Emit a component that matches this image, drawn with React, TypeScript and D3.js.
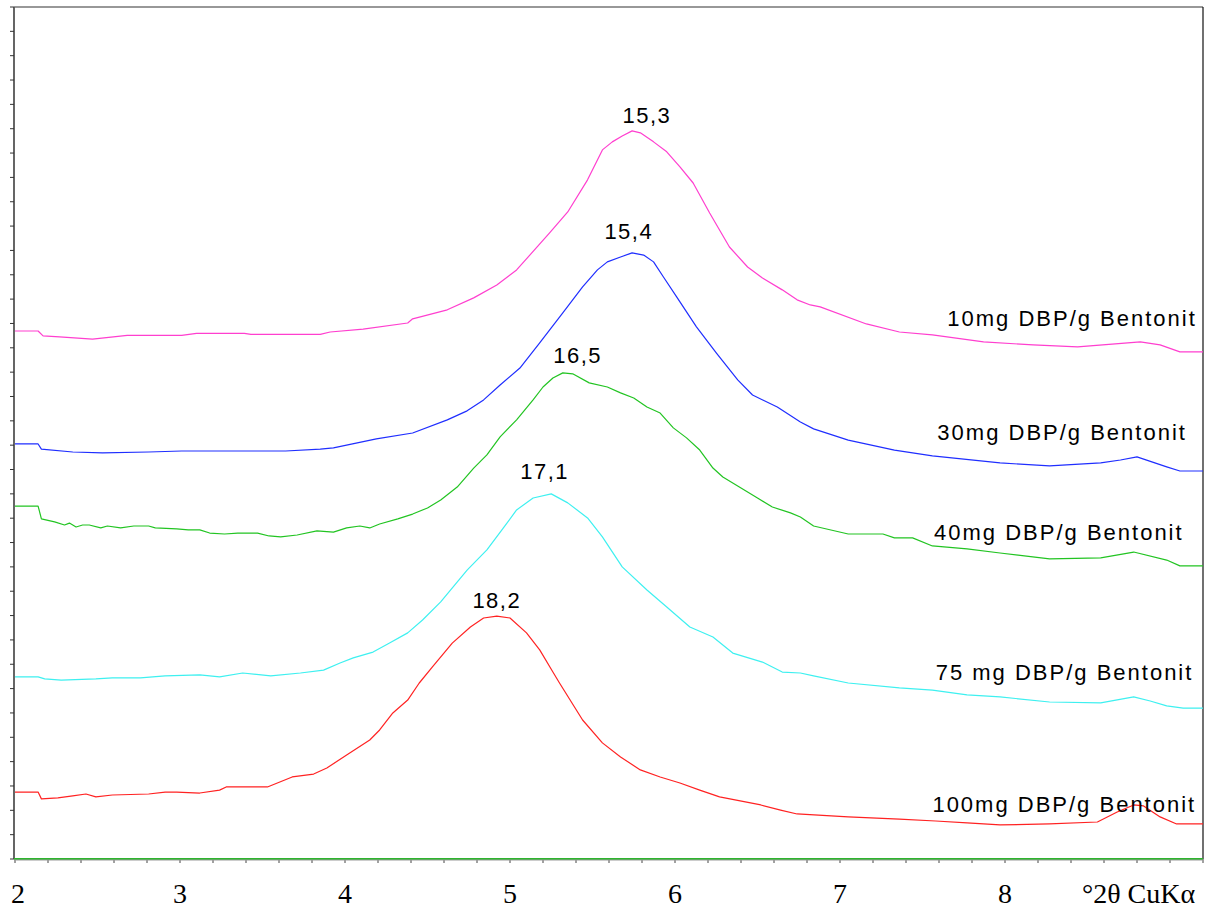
import React from "react";
import * as d3 from "d3";

// ---- data (x in °2θ, y in arbitrary intensity units, stacked as plotted) ----
const mag10X = [2.0, 2.14, 2.17, 2.27, 2.47, 2.68, 3.01, 3.1, 3.39, 3.43, 3.85, 3.91, 4.11, 4.38, 4.41, 4.62, 4.78, 4.92, 5.04, 5.12, 5.24, 5.35, 5.47, 5.56, 5.62, 5.68, 5.74, 5.79, 5.87, 5.95, 6.03, 6.11, 6.21, 6.33, 6.44, 6.53, 6.65, 6.74, 6.82, 6.88, 7.16, 7.36, 7.56, 7.87, 8.17, 8.44, 8.82, 8.94, 9.06, 9.2];
const mag10Y = [21.69, 21.69, 21.49, 21.45, 21.36, 21.51, 21.51, 21.59, 21.59, 21.55, 21.55, 21.65, 21.77, 22.02, 22.19, 22.56, 23.05, 23.58, 24.2, 24.81, 25.72, 26.58, 27.9, 29.13, 29.46, 29.7, 29.91, 29.83, 29.46, 29.05, 28.43, 27.77, 26.54, 25.14, 24.32, 23.87, 23.38, 22.97, 22.76, 22.68, 21.98, 21.65, 21.53, 21.24, 21.12, 21.04, 21.24, 21.12, 20.83, 20.83];

const blue30X = [2.0, 2.14, 2.16, 2.35, 2.53, 2.81, 3.01, 3.33, 3.64, 3.85, 3.93, 4.19, 4.41, 4.62, 4.74, 4.84, 4.94, 5.06, 5.18, 5.32, 5.44, 5.53, 5.59, 5.67, 5.74, 5.81, 5.87, 5.93, 6.01, 6.13, 6.25, 6.38, 6.47, 6.62, 6.76, 6.84, 7.05, 7.33, 7.56, 7.97, 8.27, 8.58, 8.7, 8.8, 8.98, 9.06, 9.2];
const blue30Y = [17.05, 17.05, 16.84, 16.72, 16.68, 16.72, 16.76, 16.76, 16.76, 16.84, 16.89, 17.26, 17.5, 18.04, 18.41, 18.86, 19.47, 20.17, 21.2, 22.43, 23.5, 24.2, 24.53, 24.73, 24.9, 24.81, 24.53, 23.91, 23.09, 21.86, 20.79, 19.68, 19.06, 18.57, 17.95, 17.67, 17.21, 16.8, 16.56, 16.27, 16.15, 16.27, 16.39, 16.52, 16.11, 15.94, 15.94];

const green40X = [2.0, 2.14, 2.16, 2.24, 2.3, 2.33, 2.37, 2.41, 2.45, 2.52, 2.56, 2.64, 2.72, 2.81, 2.85, 2.98, 3.05, 3.12, 3.18, 3.27, 3.35, 3.47, 3.54, 3.61, 3.71, 3.83, 3.93, 4.01, 4.09, 4.15, 4.21, 4.32, 4.41, 4.5, 4.58, 4.68, 4.78, 4.86, 4.94, 5.04, 5.14, 5.2, 5.26, 5.32, 5.38, 5.48, 5.59, 5.67, 5.75, 5.83, 5.91, 5.99, 6.07, 6.15, 6.23, 6.29, 6.39, 6.5, 6.59, 6.7, 6.76, 6.84, 7.05, 7.26, 7.33, 7.44, 7.56, 7.77, 7.97, 8.27, 8.58, 8.78, 8.98, 9.06, 9.2];
const green40Y = [14.5, 14.5, 13.97, 13.85, 13.72, 13.8, 13.64, 13.72, 13.72, 13.6, 13.68, 13.6, 13.68, 13.68, 13.6, 13.56, 13.52, 13.52, 13.39, 13.35, 13.39, 13.39, 13.27, 13.23, 13.31, 13.48, 13.43, 13.6, 13.68, 13.6, 13.76, 13.97, 14.17, 14.42, 14.75, 15.28, 16.06, 16.6, 17.34, 18.04, 18.86, 19.39, 19.76, 19.97, 19.93, 19.56, 19.39, 19.15, 18.94, 18.57, 18.32, 17.71, 17.3, 16.8, 16.06, 15.69, 15.28, 14.83, 14.46, 14.22, 14.05, 13.68, 13.35, 13.35, 13.19, 13.19, 12.86, 12.74, 12.57, 12.33, 12.37, 12.61, 12.28, 12.04, 12.04];

const cyan75X = [2.0, 2.14, 2.18, 2.28, 2.49, 2.59, 2.76, 2.91, 3.12, 3.24, 3.38, 3.55, 3.73, 3.87, 3.97, 4.05, 4.17, 4.27, 4.38, 4.47, 4.58, 4.74, 4.86, 4.96, 5.04, 5.14, 5.25, 5.35, 5.47, 5.56, 5.68, 5.83, 5.95, 6.09, 6.23, 6.35, 6.53, 6.65, 6.76, 6.84, 7.05, 7.36, 7.56, 7.77, 7.97, 8.27, 8.58, 8.78, 8.88, 8.98, 9.08, 9.2];
const cyan75Y = [7.48, 7.48, 7.4, 7.35, 7.4, 7.44, 7.44, 7.52, 7.56, 7.48, 7.64, 7.52, 7.64, 7.76, 8.05, 8.26, 8.5, 8.87, 9.29, 9.82, 10.56, 11.87, 12.7, 13.6, 14.34, 14.83, 15.0, 14.63, 14.01, 13.23, 12.0, 11.05, 10.35, 9.53, 9.12, 8.46, 8.09, 7.68, 7.64, 7.52, 7.23, 7.03, 6.94, 6.74, 6.66, 6.45, 6.41, 6.66, 6.49, 6.29, 6.2, 6.2];

const red100X = [2.0, 2.14, 2.16, 2.26, 2.35, 2.43, 2.49, 2.59, 2.81, 2.91, 2.98, 3.12, 3.24, 3.28, 3.53, 3.68, 3.81, 3.89, 4.01, 4.15, 4.21, 4.29, 4.38, 4.45, 4.53, 4.65, 4.76, 4.84, 4.92, 5.0, 5.1, 5.18, 5.26, 5.3, 5.44, 5.56, 5.67, 5.79, 5.91, 6.03, 6.15, 6.27, 6.52, 6.64, 6.74, 7.05, 7.36, 7.58, 7.77, 7.97, 8.27, 8.56, 8.68, 8.78, 8.84, 8.94, 9.04, 9.2];
const red100Y = [2.75, 2.75, 2.47, 2.51, 2.59, 2.67, 2.55, 2.63, 2.67, 2.75, 2.75, 2.71, 2.83, 2.96, 2.96, 3.37, 3.49, 3.74, 4.27, 4.89, 5.3, 6.0, 6.53, 7.23, 7.89, 8.87, 9.53, 9.9, 9.98, 9.9, 9.29, 8.59, 7.68, 7.23, 5.71, 4.77, 4.19, 3.66, 3.37, 3.12, 2.83, 2.55, 2.22, 2.01, 1.85, 1.73, 1.64, 1.56, 1.48, 1.4, 1.44, 1.52, 1.93, 2.22, 2.18, 1.73, 1.44, 1.44];

const seriesNames = ["10mg DBP/g Bentonit", "30mg DBP/g Bentonit", "40mg DBP/g Bentonit", "75 mg DBP/g Bentonit", "100mg DBP/g Bentonit"];
const seriesColors = ["#ff3fcf", "#1f2eff", "#22c422", "#3ef0f0", "#ff2222"];
const nameLabelX = [7.65, 7.59, 7.57, 7.58, 7.56];
const nameLabelY = [21.9, 17.21, 13.11, 7.35, 1.93];

const peakLabels = ["15,3", "15,4", "16,5", "17,1", "18,2"];
const peakLabelX = [5.83, 5.72, 5.41, 5.21, 4.92];
const peakLabelY = [30.24, 25.47, 20.38, 15.61, 10.31];

const xTickLabels = [2, 3, 4, 5, 6, 7, 8];
const xAxisTitle = "°2θ CuKα";

const X_MIN = 2;
const X_MAX = 9.2;
const Y_MIN = 0;
const Y_MAX = 35;

export default function App() {
  const W = 1221;
  const H = 911;
  const left = 15;
  const right = 1203;
  const top = 7;
  const bottom = 859;

  const x = d3.scaleLinear().domain([X_MIN, X_MAX]).range([left, right]);
  const y = d3.scaleLinear().domain([Y_MIN, Y_MAX]).range([bottom, top]);

  const xs = [mag10X, blue30X, green40X, cyan75X, red100X];
  const ys = [mag10Y, blue30Y, green40Y, cyan75Y, red100Y];

  const line = d3
    .line<[number, number]>()
    .x((d) => x(d[0]))
    .y((d) => y(d[1]));

  const minorTicks = d3.range(0, Math.round((X_MAX - X_MIN) / 0.2) + 1).map((i) => X_MIN + i * 0.2);
  const yTicks = d3.range(Y_MIN, Y_MAX + 1, 1);

  const sans = "'Liberation Sans', Arial, Helvetica, sans-serif";
  const serif = "'Liberation Serif', 'Times New Roman', serif";

  return (
    <svg
      width={W}
      height={H}
      style={{ position: "absolute", left: 0, top: 0, background: "#fff" }}
    >
      <rect x={0} y={0} width={W} height={H} fill="#fff" />
      {/* frame */}
      <line x1={x(X_MIN) - 1} x2={x(X_MAX)} y1={y(Y_MAX)} y2={y(Y_MAX)} stroke="#333" strokeWidth={1.2} />
      <line x1={x(X_MAX)} x2={x(X_MAX)} y1={y(Y_MAX)} y2={y(Y_MIN)} stroke="#111" strokeWidth={1.2} />
      <line x1={x(X_MIN) - 1} x2={x(X_MIN) - 1} y1={y(Y_MAX)} y2={y(Y_MIN)} stroke="#555" strokeWidth={1.8} />
      {/* y ticks */}
      {yTicks.map((t) => (
        <line key={"yt" + t} x1={x(X_MIN) - 5} x2={x(X_MIN) - 1} y1={y(t)} y2={y(t)} stroke="#333" strokeWidth={1} />
      ))}
      {/* x ticks */}
      {minorTicks.map((t, i) => (
        <line key={"xt" + i} x1={x(t)} x2={x(t)} y1={y(Y_MIN)} y2={y(Y_MIN) + 4} stroke="#444" strokeWidth={1} />
      ))}
      {/* bottom axis */}
      <line x1={x(X_MIN) - 1} x2={x(X_MAX)} y1={y(Y_MIN) + 0.5} y2={y(Y_MIN) + 0.5} stroke="#999" strokeWidth={2} />
      <line x1={x(X_MIN) - 1} x2={x(X_MAX)} y1={y(Y_MIN) - 0.3} y2={y(Y_MIN) - 0.3} stroke="#2db52d" strokeWidth={1.4} />

      {/* series */}
      {xs.map((sx, i) => {
        const pts: [number, number][] = sx.map((v, j) => [v, ys[i][j]]);
        return (
          <path key={"s" + i} d={line(pts) || ""} fill="none" stroke={seriesColors[i]} strokeWidth={1.2} strokeLinejoin="round" />
        );
      })}

      {/* peak labels */}
      {peakLabels.map((t, i) => (
        <text
          key={"pl" + i}
          x={x(peakLabelX[i])}
          y={y(peakLabelY[i])}
          textAnchor="middle"
          fontFamily={sans}
          fontSize={22}
          letterSpacing={1.5}
          fill="#000"
        >
          {t}
        </text>
      ))}

      {/* series name labels */}
      {seriesNames.map((t, i) => (
        <text
          key={"nl" + i}
          x={x(nameLabelX[i])}
          y={y(nameLabelY[i])}
          fontFamily={sans}
          fontSize={22}
          letterSpacing={2}
          fill="#000"
        >
          {t}
        </text>
      ))}

      {/* x tick labels */}
      {xTickLabels.map((t) => (
        <text key={"xl" + t} x={x(t) + (t === 2 ? 3 : 0)} y={903} textAnchor="middle" fontFamily={serif} fontSize={28} fill="#000">
          {t}
        </text>
      ))}
      <text x={1082} y={903} fontFamily={serif} fontSize={28} fill="#000">
        {xAxisTitle}
      </text>
    </svg>
  );
}
